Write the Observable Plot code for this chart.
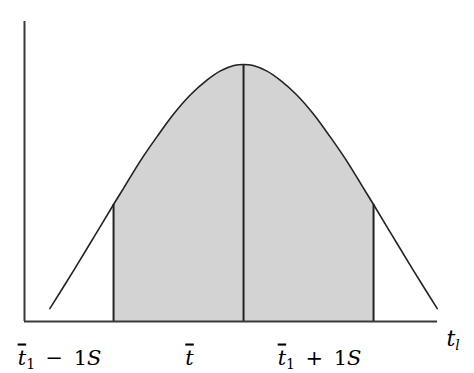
<!DOCTYPE html>
<html>
<head>
<meta charset="utf-8">
<script src="https://cdn.jsdelivr.net/npm/d3@7"></script>
<script src="https://cdn.jsdelivr.net/npm/@observablehq/plot@0.6"></script>
<style>
  body { margin: 0; background: #fff; }
  svg { display: block; }
</style>
</head>
<body>
<div id="chart"></div>
<script>
// Bell-shaped curve, x in units of S around the mean, y relative to the peak
const curveX = [-1.49, -1.305, -1.149, -1.0, -0.921, -0.792, -0.664, -0.536, -0.408, -0.279, -0.177, -0.074, 0,
                0.074, 0.177, 0.279, 0.408, 0.536, 0.664, 0.792, 0.921, 1.0, 1.149, 1.305, 1.49];
const curveY = [0.05, 0.2, 0.33, 0.455, 0.52, 0.626, 0.72, 0.808, 0.882, 0.94, 0.975, 0.996, 1.0,
                0.996, 0.975, 0.94, 0.882, 0.808, 0.72, 0.626, 0.52, 0.455, 0.33, 0.2, 0.05];

// Mean and ±1S markers
const markerX = [-1, 0, 1];
// "_" marks a subscript, U+0304 puts a bar over the preceding letter, U+2002 is an en space
const tickLabels = ["t\u0304_1\u2002−\u20021S", "t\u0304", "t\u0304_1\u2002+\u20021S"];
const axisLabel = "t_l";

const points = curveX.map((x, i) => ({x, y: curveY[i]}));
const band = points.filter(d => d.x >= -1 && d.x <= 1);
const markers = markerX.map(x => points.find(d => d.x === x));

const xDomain = [-1.685, 1.492];
const mathFont = "DejaVu Serif";

const chart = Plot.plot({
  width: 474,
  height: 373,
  marginLeft: 24,
  marginRight: 37,
  marginTop: 21,
  marginBottom: 52,
  x: {domain: xDomain, axis: null},
  y: {domain: [0, 1.167], axis: null},
  style: {fontFamily: mathFont, background: "#fff", color: "#000"},
  marks: [
    Plot.areaY(band, {x: "x", y: "y", fill: "#d3d3d3", curve: "catmull-rom"}),
    Plot.ruleX(markers, {x: "x", y1: 0, y2: "y", stroke: "#222", strokeWidth: 2}),
    Plot.lineY(points, {x: "x", y: "y", stroke: "#222", strokeWidth: 1.6, curve: "catmull-rom"}),
    Plot.ruleY([0], {stroke: "#3a3a3a", strokeWidth: 2}),
    Plot.ruleX([xDomain[0]], {stroke: "#3a3a3a", strokeWidth: 2}),
    Plot.text(tickLabels, {
      x: (d, i) => markerX[i], y: 0, text: d => d,
      dx: -54, dy: 43, lineAnchor: "bottom", fontSize: 21, fontFamily: mathFont, fill: "#000"
    }),
    Plot.text([axisLabel], {
      x: xDomain[1], y: 0, text: d => d,
      dx: 9, dy: 24, textAnchor: "start", lineAnchor: "bottom", fontSize: 22, fontFamily: mathFont, fill: "#000"
    })
  ]
});

// Typeset labels: italic letters, overbars and subscripts as tspans
const ns = "http://www.w3.org/2000/svg";
function typeset(el) {
  const src = el.textContent;
  el.textContent = "";
  let sub = false, lowered = false, last = null;
  for (const c of src) {
    if (c === "_") { sub = true; continue; }
    if (c === "\u0304") { if (last) last.setAttribute("text-decoration", "overline"); continue; }
    const t = document.createElementNS(ns, "tspan");
    t.textContent = c;
    if (/[A-Za-z]/.test(c)) t.setAttribute("font-style", "italic");
    if (sub) {
      t.setAttribute("font-size", "14");
      t.setAttribute("dy", "4");
      sub = false; lowered = true;
    } else if (lowered) {
      t.setAttribute("dy", "-4");
      lowered = false;
    }
    el.appendChild(t);
    last = t;
  }
}
chart.querySelectorAll("text").forEach(typeset);

document.getElementById("chart").appendChild(chart);
</script>
</body>
</html>
